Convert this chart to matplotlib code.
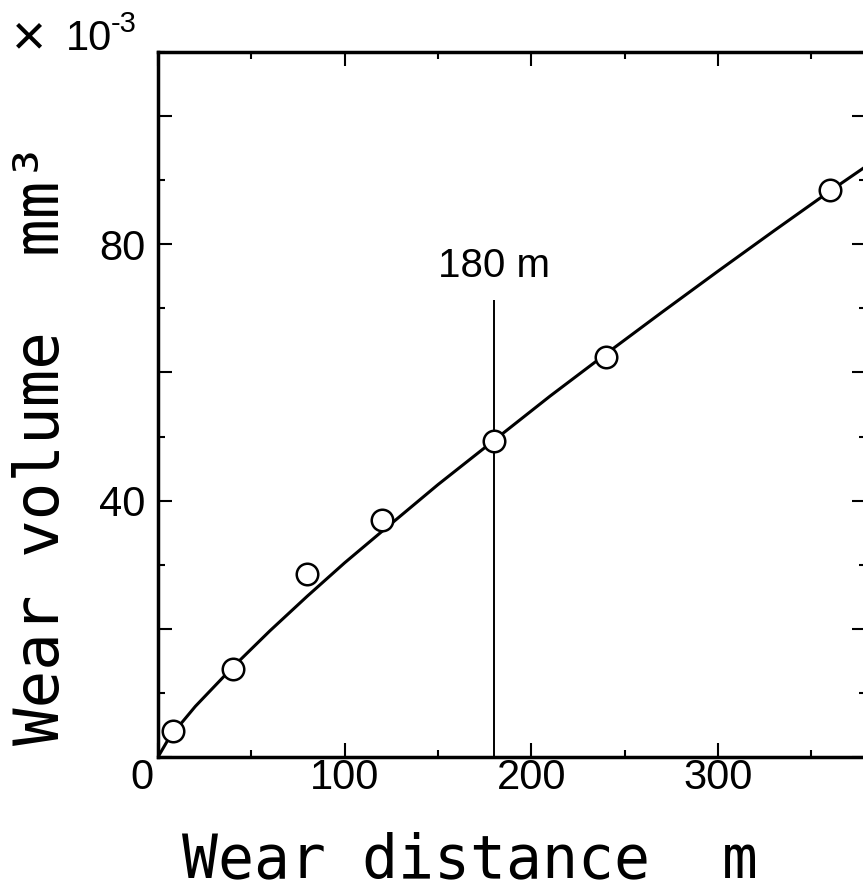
#
# Volume d'usure en fonction de la distance d'usure
#
import matplotlib
matplotlib.use("Agg")
import matplotlib.pyplot as plt
from matplotlib.ticker import MultipleLocator
from matplotlib.transforms import ScaledTranslation

### Points mesurés (distance [m], volume [x1e-3 mm3])
dist_pts = [8, 40, 80, 120, 180, 240, 360]
vol_pts = [4.0, 13.7, 28.6, 37.0, 49.3, 62.4, 88.5]

### Courbe lissée
dist_curve = [0, 5, 10, 20, 40, 60, 80, 100, 120, 150, 180, 210, 240, 270, 300, 330, 360, 380]
vol_curve = [0, 2.5, 4.4, 7.9, 14.0, 19.7, 25.1, 30.3, 35.2, 42.5, 49.4, 56.3, 62.9, 69.4, 75.8, 82.1, 88.3, 92.3]

### Repère vertical à 180 m
mark_dist = 180
mark_top = 71.3
mark_label = "180 m"

### Graduations
xticks = [0, 100, 200, 300]
xlabels = ["0", "100", "200", "300"]
yticks = [0, 20, 40, 60, 80, 100]
ylabels = ["", "", "40", "", "80", ""]

W, H = 863, 891
fig = plt.figure(figsize=(W / 100, H / 100), dpi=100)
ax = fig.add_axes([158 / W, 1 - 757 / H, (866 - 158) / W, (757 - 52) / H])

ax.plot(dist_curve, vol_curve, color="black", lw=2.2, zorder=2)
ax.plot(dist_pts, vol_pts, ls="none", marker="o", ms=15.5, mfc="white",
        mec="black", mew=1.8, zorder=3)
ax.vlines(mark_dist, 0, mark_top, color="black", lw=1.4, zorder=1)
ax.text(mark_dist, 74.9, mark_label, ha="center", va="baseline",
        fontsize=29, family="Liberation Sans")

ax.set_xlim(0, 379.3)
ax.set_ylim(0, 110)
ax.set_xticks(xticks, labels=xlabels)
ax.set_yticks(yticks, labels=ylabels)
ax.xaxis.set_minor_locator(MultipleLocator(50))
ax.yaxis.set_minor_locator(MultipleLocator(10))
ax.tick_params(which="both", direction="in", top=True, right=True, width=1.5)
ax.tick_params(which="major", length=10)
ax.tick_params(which="minor", length=5)
ax.tick_params(axis="x", pad=1)
ax.tick_params(axis="y", pad=9)
for lab in ax.get_xticklabels() + ax.get_yticklabels():
    lab.set_fontfamily("Liberation Sans")
    lab.set_fontsize(30)
# le "0" est décalé vers la gauche
lab0 = ax.get_xticklabels()[0]
lab0.set_transform(lab0.get_transform() + ScaledTranslation(-0.16, 0, fig.dpi_scale_trans))

for s in ax.spines.values():
    s.set_linewidth(2.5)

### Titres des axes (police à chasse fixe)
fig.text(182 / W, 1 - 877 / H, "Wear distance  m", ha="left", va="baseline",
         fontsize=43, family="DejaVu Sans Mono")
fig.text(42 / W, 1 - 745 / H, "Wear volume  mm³", ha="center", va="bottom",
         rotation=90, fontsize=45, family="DejaVu Sans Mono")

### Facteur d'échelle
fig.text(12 / W, 1 - 54 / H, "×", ha="left", va="baseline",
         fontsize=42, family="Liberation Sans")
fig.text(66 / W, 1 - 50 / H, "10", ha="left", va="baseline",
         fontsize=30, family="Liberation Sans")
fig.text(111 / W, 1 - 32 / H, "-3", ha="left", va="baseline",
         fontsize=21, family="Liberation Sans")

fig.savefig("out.png", dpi=100)
